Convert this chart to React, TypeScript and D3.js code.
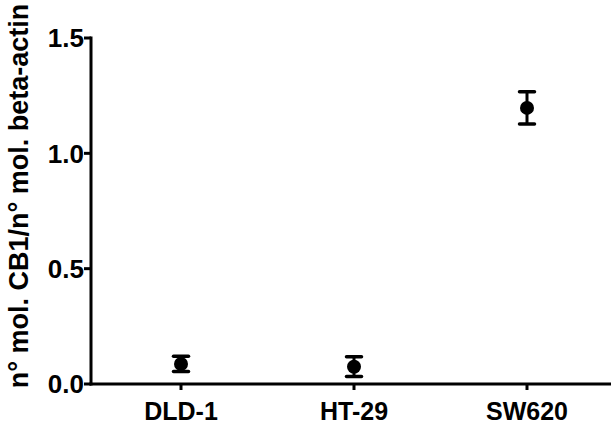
import React from "react";
import * as d3 from "d3";

const categories = ["DLD-1", "HT-29", "SW620"];
const means = [0.087, 0.075, 1.197];
const errors = [0.033, 0.043, 0.07];
const yTicks = [0, 0.5, 1.0, 1.5];
const yLabel = "n° mol. CB1/n° mol. beta-actin";

const W = 611;
const H = 427;

export default function App() {
  const y = d3.scaleLinear().domain([0, 1.5]).range([384, 38]);
  const x = d3.scalePoint<string>().domain(categories).range([181, 527]);
  const font = "'Liberation Sans', Arial, sans-serif";
  const axisX0 = 91;
  return (
    <svg width={W} height={H} style={{ position: "absolute", left: 0, top: 0, background: "#fff" }}>
      <rect width={W} height={H} fill="#fff" />
      {/* y axis */}
      <line x1={axisX0} x2={axisX0} y1={y(1.5) - 1.5} y2={y(0) + 1.5} stroke="#000" strokeWidth={3} />
      {yTicks.map((t) => (
        <g key={t}>
          <line x1={axisX0 - 7} x2={axisX0} y1={y(t)} y2={y(t)} stroke="#000" strokeWidth={3} />
          <text x={axisX0 - 7} y={y(t)} dy="0.36em" textAnchor="end" fontFamily={font} fontWeight="bold" fontSize={26}>
            {d3.format(".1f")(t)}
          </text>
        </g>
      ))}
      {/* x axis */}
      <line x1={axisX0 - 1.5} x2={W} y1={y(0)} y2={y(0)} stroke="#000" strokeWidth={3} />
      {categories.map((c) => (
        <g key={c}>
          <line x1={x(c)} x2={x(c)} y1={y(0)} y2={y(0) + 6} stroke="#000" strokeWidth={3} />
          <text x={x(c)} y={y(0) + 36} textAnchor="middle" fontFamily={font} fontWeight="bold" fontSize={25}>
            {c}
          </text>
        </g>
      ))}
      {/* y label */}
      <text
        transform={`translate(28,${196}) rotate(-90)`}
        textAnchor="middle"
        fontFamily={font}
        fontWeight="bold"
        fontSize={27}
      >
        {yLabel}
      </text>
      {/* points */}
      {categories.map((c, i) => {
        const cx = x(c)!;
        const hi = y(means[i] + errors[i]);
        const lo = y(means[i] - errors[i]);
        return (
          <g key={c}>
            <line x1={cx} x2={cx} y1={hi} y2={lo} stroke="#000" strokeWidth={3} />
            <line x1={cx - 7.5} x2={cx + 7.5} y1={hi} y2={hi} stroke="#000" strokeWidth={3.5} strokeLinecap="round" />
            <line x1={cx - 7.5} x2={cx + 7.5} y1={lo} y2={lo} stroke="#000" strokeWidth={3.5} strokeLinecap="round" />
            <circle cx={cx} cy={y(means[i])} r={7} fill="#000" />
          </g>
        );
      })}
    </svg>
  );
}
